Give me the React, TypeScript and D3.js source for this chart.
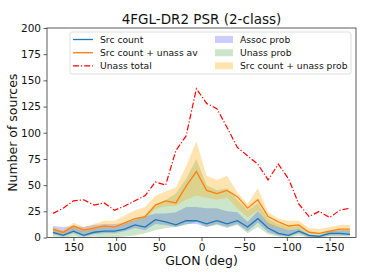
import { useEffect, useRef } from "react";
import * as d3 from "d3";

// bin centres, 12 deg bins from 174 down to -174
const glon = [
  174, 162, 150, 138, 126, 114, 102, 90, 78, 66, 54, 42, 30, 18, 6,
  -6, -18, -30, -42, -54, -66, -78, -90, -102, -114, -126, -138, -150, -162, -174,
];

const srcCount = [5, 2, 6, 2, 5, 6, 6, 8, 12, 10, 17, 15, 12, 16, 16, 13, 16, 13, 16, 10, 18, 9, 4, 2, 6, 2, 1, 4, 4, 3];
const srcUnassAv = [8, 5, 11, 7, 9, 11, 10, 14, 18, 20, 31, 35, 33, 49, 63, 45, 42, 45, 39, 28, 36, 20, 15, 11, 12, 5, 4, 6, 8, 8];
const unassTotal = [23, 28, 35, 36, 31, 33, 26, 30, 35, 40, 53, 50, 83, 97, 142, 128, 123, 105, 86, 78, 70, 55, 70, 56, 32, 20, 25, 19, 26, 28];

const assocLo = [3, 1, 4, 1, 3, 4, 4, 6, 9, 7, 13, 12, 10, 13, 13, 10, 13, 10, 13, 6, 14, 5, 2, 1, 4, 0, 0, 2, 2, 2];
const assocHi = [11, 10, 11, 10, 12, 13, 13, 14, 17, 20, 23, 23, 24, 29, 29, 28, 28, 25, 24, 15, 25, 14, 10, 7, 8, 3, 2, 6, 7, 7];
const unassLo = [1, 0, 1, 0, 1, 0, 0, 1, 2, 4, 7, 9, 10, 12, 15, 10, 12, 9, 12, 4, 10, 3, 1, 0, 2, 0, 0, 1, 1, 1];
const unassHi = [8, 5, 10, 6, 8, 10, 9, 13, 17, 21, 30, 36, 42, 56, 75, 50, 45, 47, 36, 26, 33, 18, 13, 10, 11, 5, 4, 6, 7, 7];
const sumLo = [6, 3, 8, 5, 7, 9, 9, 12, 16, 18, 27, 30, 30, 36, 40, 38, 36, 38, 28, 19, 26, 12, 9, 7, 8, 4, 3, 5, 6, 6];
const sumHi = [10, 7, 14, 10, 13, 16, 16, 21, 26, 29, 40, 44, 48, 68, 92, 59, 55, 59, 43, 32, 47, 24, 18, 16, 16, 9, 8, 10, 12, 12];

const xTicks = [150, 100, 50, 0, -50, -100, -150];
const yTicks = [0, 25, 50, 75, 100, 125, 150, 175, 200];

const FONT = "DejaVu Sans, sans-serif";

export default function App() {
  const svgRef = useRef<SVGSVGElement>(null);

  useEffect(() => {
    if (!svgRef.current) return;
    const svg = d3.select(svgRef.current);
    svg.selectAll("*").remove();

    const left = 47;
    const right = 356;
    const top = 28;
    const bottom = 237.5;

    const x = d3.scaleLinear().domain([181, -181]).range([left, right]);
    const y = d3.scaleLinear().domain([0, 200]).range([bottom, top]);

    const band = (lo: number[], hi: number[]) =>
      d3
        .area<number>()
        .x((_, i) => x(glon[i]))
        .y0((_, i) => y(lo[i]))
        .y1((_, i) => y(hi[i]))(glon) || "";

    const line = (vals: number[]) =>
      d3
        .line<number>()
        .x((_, i) => x(glon[i]))
        .y((_, i) => y(vals[i]))(glon) || "";

    // bands
    svg.append("path").attr("d", band(assocLo, assocHi)).attr("fill", "#0000ff").attr("fill-opacity", 0.2);
    svg.append("path").attr("d", band(unassLo, unassHi)).attr("fill", "#008000").attr("fill-opacity", 0.2);
    svg.append("path").attr("d", band(sumLo, sumHi)).attr("fill", "#ffa500").attr("fill-opacity", 0.3);

    // lines
    svg.append("path").attr("d", line(srcCount)).attr("fill", "none").attr("stroke", "#1f77b4").attr("stroke-width", 1.3);
    svg.append("path").attr("d", line(srcUnassAv)).attr("fill", "none").attr("stroke", "#ff7f0e").attr("stroke-width", 1.3);
    svg
      .append("path")
      .attr("d", line(unassTotal))
      .attr("fill", "none")
      .attr("stroke", "#ff0000")
      .attr("stroke-width", 1.2)
      .attr("stroke-dasharray", "6,2,1.2,2");

    // frame
    svg
      .append("rect")
      .attr("x", left)
      .attr("y", top)
      .attr("width", right - left)
      .attr("height", bottom - top)
      .attr("fill", "none")
      .attr("stroke", "#333")
      .attr("stroke-width", 0.8);

    // x axis
    const xAxis = svg
      .append("g")
      .attr("transform", `translate(0,${bottom})`)
      .call(
        d3
          .axisBottom(x)
          .tickValues(xTicks)
          .tickSize(3.5)
          .tickPadding(2.5)
          .tickFormat((d) => d3.format("d")(d as number).replace("-", "\u2212"))
      );
    xAxis.select(".domain").remove();
    xAxis.selectAll("line").attr("stroke", "#333").attr("stroke-width", 0.8);
    xAxis.selectAll("text").attr("fill", "#111").style("font-size", "10.5px").style("font-family", FONT);

    // y axis
    const yAxis = svg
      .append("g")
      .attr("transform", `translate(${left},0)`)
      .call(d3.axisLeft(y).tickValues(yTicks).tickSize(3.5).tickPadding(2.5));
    yAxis.select(".domain").remove();
    yAxis.selectAll("line").attr("stroke", "#333").attr("stroke-width", 0.8);
    yAxis.selectAll("text").attr("fill", "#111").style("font-size", "10.5px").style("font-family", FONT);

    // labels
    svg
      .append("text")
      .attr("x", (left + right) / 2)
      .attr("y", 23.5)
      .attr("text-anchor", "middle")
      .style("font-family", FONT)
      .style("font-size", "13.5px")
      .attr("fill", "#111")
      .text("4FGL-DR2 PSR (2-class)");

    svg
      .append("text")
      .attr("x", (left + right) / 2)
      .attr("y", 265)
      .attr("text-anchor", "middle")
      .style("font-family", FONT)
      .style("font-size", "12.5px")
      .attr("fill", "#111")
      .text("GLON (deg)");

    svg
      .append("text")
      .attr("transform", `translate(13,${(top + bottom) / 2}) rotate(-90)`)
      .attr("text-anchor", "middle")
      .attr("dy", "0.35em")
      .style("font-family", FONT)
      .style("font-size", "12.5px")
      .attr("fill", "#111")
      .text("Number of sources");

    // legend
    const lg = svg.append("g");
    lg.append("rect")
      .attr("x", 70)
      .attr("y", 32)
      .attr("width", 281)
      .attr("height", 42)
      .attr("rx", 2)
      .attr("fill", "#fff")
      .attr("fill-opacity", 0.8)
      .attr("stroke", "#d5d5d5")
      .attr("stroke-width", 0.8);

    const lineItems = [
      { label: "Src count", color: "#1f77b4", dash: "" },
      { label: "Src count + unass av", color: "#ff7f0e", dash: "" },
      { label: "Unass total", color: "#ff0000", dash: "6,2,1.2,2" },
    ];
    const patchItems = [
      { label: "Assoc prob", color: "#0000ff", op: 0.2 },
      { label: "Unass prob", color: "#008000", op: 0.2 },
      { label: "Src count + unass prob", color: "#ffa500", op: 0.3 },
    ];
    const rowY = [39.5, 52.7, 65.8];

    lineItems.forEach((d, i) => {
      lg.append("line")
        .attr("x1", 73)
        .attr("x2", 93)
        .attr("y1", rowY[i])
        .attr("y2", rowY[i])
        .attr("stroke", d.color)
        .attr("stroke-width", 1.3)
        .attr("stroke-dasharray", d.dash);
      lg.append("text")
        .attr("x", 100)
        .attr("y", rowY[i])
        .attr("dy", "0.35em")
        .style("font-family", FONT)
        .style("font-size", "9.2px")
        .attr("fill", "#111")
        .text(d.label);
    });

    patchItems.forEach((d, i) => {
      lg.append("rect")
        .attr("x", 215)
        .attr("y", rowY[i] - 3.5)
        .attr("width", 18)
        .attr("height", 7)
        .attr("fill", d.color)
        .attr("fill-opacity", d.op);
      lg.append("text")
        .attr("x", 240)
        .attr("y", rowY[i])
        .attr("dy", "0.35em")
        .style("font-family", FONT)
        .style("font-size", "9.2px")
        .attr("fill", "#111")
        .text(d.label);
    });
  }, []);

  return (
    <div style={{ position: "fixed", left: 0, top: 0 }}>
      <svg ref={svgRef} width={374} height={280} style={{ display: "block", background: "#fff" }} />
    </div>
  );
}
